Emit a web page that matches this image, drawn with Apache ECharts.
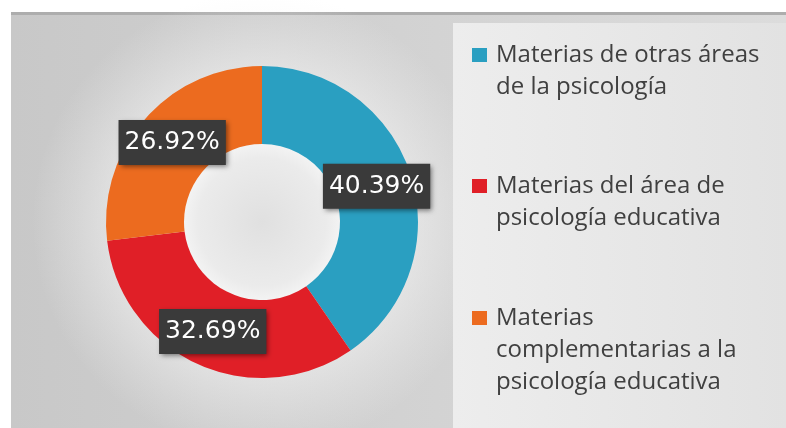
<!DOCTYPE html>
<html>
<head>
<meta charset="utf-8">
<script src="https://cdn.jsdelivr.net/npm/echarts@6/dist/echarts.min.js"></script>
<style>
html,body{margin:0;padding:0;background:#ffffff;}
#chart{width:786px;height:428px;}
</style>
</head>
<body>
<div id="chart"></div>
<script>
// ---- data ----
var categories = [
  'Materias de otras áreas de la psicología',
  'Materias del área de psicología educativa',
  'Materias complementarias a la psicología educativa'
];
var legendLines = [
  ['Materias de otras áreas', 'de la psicología'],
  ['Materias del área de', 'psicología educativa'],
  ['Materias', 'complementarias a la', 'psicología educativa']
];
var values = [40.39, 32.69, 26.92];
var colors = ['#2a9fc1', '#e01f27', '#ec6b1f'];

// ---- layout ----
var LH = 32;
var iconCenters = [55, 186, 318];

var chart = echarts.init(document.getElementById('chart'), null, {renderer: 'canvas'});

var legends = categories.map(function (name, i) {
  var n = legendLines[i].length;
  return {
    orient: 'vertical',
    left: 472,
    top: iconCenters[i] - (2 * n - 1) * LH / 2,
    padding: 0,
    itemWidth: 15,
    itemHeight: 14,
    icon: 'rect',
    selectedMode: false,
    data: [{name: name, itemStyle: {color: colors[i]}}],
    formatter: function (nm) {
      var k = categories.indexOf(nm);
      var lines = legendLines[k].map(function (s) { return '\u2009' + s; });
      var pre = [];
      for (var j = 0; j < lines.length - 1; j++) pre.push(' ');
      return pre.concat(lines).join('\n');
    },
    textStyle: {
      fontFamily: 'Open Sans',
      fontSize: 24,
      color: '#404040',
      lineHeight: LH
    }
  };
});

var option = {
  backgroundColor: '#ffffff',
  animation: false,
  color: colors,
  graphic: [
    {
      type: 'rect', z: -10, silent: true,
      shape: {x: 11, y: 12, width: 775, height: 416},
      style: {
        fill: new echarts.graphic.LinearGradient(0, 0, 1, 0, [
          {offset: 0, color: '#c8c8c8'},
          {offset: 1, color: '#dcdcdc'}
        ])
      }
    },
    {
      type: 'rect', z: -9, silent: true,
      shape: {x: 11, y: 12, width: 775, height: 3},
      style: {fill: '#adadad'}
    },
    {
      type: 'circle', z: -8, silent: true,
      shape: {cx: 262, cy: 222, r: 230},
      style: {
        fill: new echarts.graphic.RadialGradient(0.5, 0.5, 0.5, [
          {offset: 0, color: 'rgba(248,248,248,0.95)'},
          {offset: 0.6, color: 'rgba(245,245,245,0.6)'},
          {offset: 1, color: 'rgba(240,240,240,0)'}
        ])
      }
    },
    {
      type: 'circle', z: -7, silent: true,
      shape: {cx: 262, cy: 222, r: 80},
      style: {
        fill: new echarts.graphic.RadialGradient(0.5, 0.5, 0.5, [
          {offset: 0, color: '#e0e0e0'},
          {offset: 0.8, color: '#ebebeb'},
          {offset: 1, color: '#f4f4f4'}
        ])
      }
    },
    {
      type: 'rect', z: -6, silent: true,
      shape: {x: 453, y: 23, width: 333, height: 405},
      style: {
        fill: new echarts.graphic.LinearGradient(0, 0, 1, 0, [
          {offset: 0, color: '#ededed'},
          {offset: 1, color: '#e2e2e2'}
        ])
      }
    }
  ],
  legend: legends,
  series: [{
    type: 'pie',
    center: [262, 222],
    radius: [78, 156],
    startAngle: 90,
    clockwise: true,
    avoidLabelOverlap: false,
    itemStyle: {borderWidth: 0},
    emphasis: {disabled: true},
    label: {
      show: true,
      position: 'inside',
      formatter: function (p) { return p.value.toFixed(2) + '%'; },
      fontFamily: 'DejaVu Sans',
      fontSize: 25,
      color: '#ffffff',
      backgroundColor: '#3a3a3a',
      padding: [11, 6, 9, 6],
      shadowBlur: 5,
      shadowColor: 'rgba(0,0,0,0.5)',
      shadowOffsetX: 2,
      shadowOffsetY: 2
    },
    labelLine: {show: false},
    data: categories.map(function (c, i) {
      return {name: c, value: values[i], itemStyle: {color: colors[i]}};
    })
  }]
};
chart.setOption(option);
</script>
</body>
</html>
